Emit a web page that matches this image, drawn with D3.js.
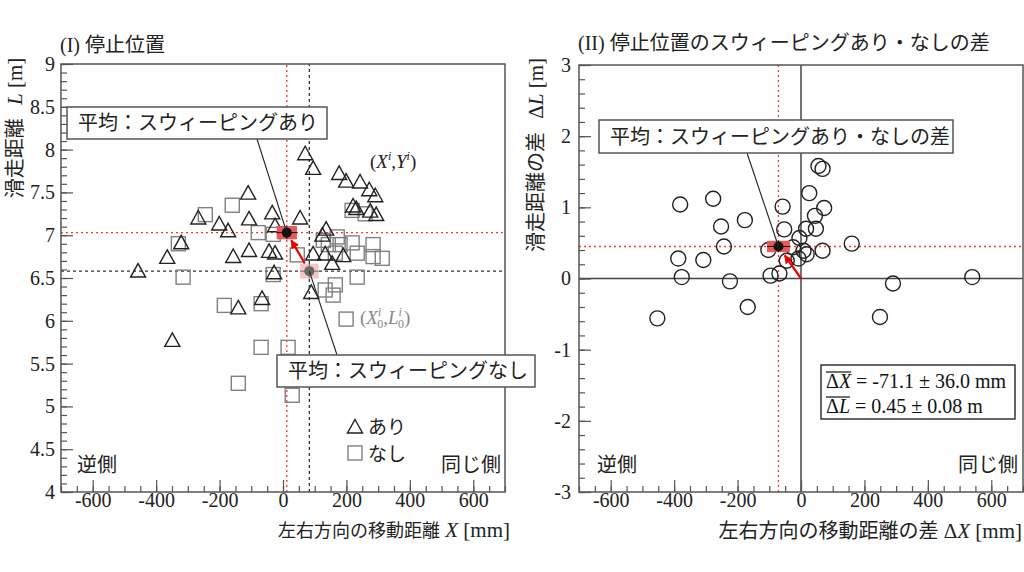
<!DOCTYPE html>
<html>
<head>
<meta charset="utf-8" />
<script src="https://d3js.org/d3.v7.min.js"></script>
<style>
  body { margin: 0; background: #fff; }
  .axis path { display: none; }
  .axis line { stroke: #555; stroke-width: 1.2px; }
  .axis text { font-family: "Liberation Serif", serif; font-size: 20px; fill: #222; }
  .frame { fill: none; stroke: #555; stroke-width: 1.5px; }
  .jp { font-family: "Noto Sans CJK JP", sans-serif; fill: #222; }
  .serif { font-family: "Liberation Serif", serif; }
  .box { fill: #fff; stroke: #555; stroke-width: 1.5px; }
</style>
</head>
<body>
<svg width="1024" height="572"></svg>
<script>

// (I) stopping position, with sweeping (triangles)
var ariX = [-110,-267,-201,-173,-107,-34,-25,-321,-365,-157,-107,-44,-25,-457,-28,-66,-141,-349,
            70,95,177,199,243,272,291,221,231,275,294,54,136,124,95,133,155,190,89];
var ariL = [7.50,7.21,7.14,7.06,7.20,7.27,7.12,6.92,6.75,6.76,6.83,6.82,6.80,6.59,6.57,6.27,6.16,5.78,
            7.96,7.79,7.73,7.64,7.63,7.54,7.47,7.35,7.32,7.29,7.25,7.21,7.08,7.01,6.79,6.79,6.68,6.77,6.34];

// (I) stopping position, without sweeping (squares)
var nashiX = [-245,-160,-330,-315,-185,-69,-78,-31,-31,-69,-141,16,29,218,259,127,171,180,218,284,
              234,284,313,45,234,165,133,158,199,165,143];
var nashiL = [7.24,7.35,6.90,6.51,6.18,6.20,7.03,7.01,6.54,5.69,5.27,5.69,5.13,7.29,7.25,6.94,6.98,6.89,6.91,6.89,
              6.79,6.75,6.73,6.77,6.51,6.42,6.36,6.30,6.02,6.79,6.89];

// (II) differences (circles)
var diffX = [-381,-277,-252,-177,-243,-387,-308,-376,-224,-453,-168,-58,-53,-103,-96,-68,-45,
             55,68,26,73,44,16,47,-5,68,160,-25,8,18,-8,249,290,540];
var diffL = [1.04,1.12,0.73,0.82,0.45,0.28,0.26,0.02,-0.04,-0.56,-0.40,1.01,0.69,0.40,0.04,0.07,0.25,
             1.58,1.54,1.20,0.99,0.88,0.70,0.70,0.57,0.39,0.49,0.44,0.39,0.34,0.28,-0.54,-0.07,0.02];

// means [x, y, errX, errY]
var meanAri = [12, 7.03, 32, 0.078];
var meanNashi = [83, 6.58, 29, 0.085];
var meanDiff = [-71.1, 0.45, 36.0, 0.08];

var xTicks = [-600, -400, -200, 0, 200, 400, 600];
var yTicksL = [4, 4.5, 5, 5.5, 6, 6.5, 7, 7.5, 8, 8.5, 9];
var yTicksR = [-3, -2, -1, 0, 1, 2, 3];

var svg = d3.select("svg");
svg.append("rect").attr("width", 1024).attr("height", 572).attr("fill", "#fff");

var defs = svg.append("defs");
defs.append("marker")
  .attr("id", "arrow")
  .attr("viewBox", "0 0 10 10")
  .attr("refX", 9).attr("refY", 5)
  .attr("markerWidth", 4).attr("markerHeight", 4)
  .attr("orient", "auto")
  .append("path").attr("d", "M0,0 L10,5 L0,10 Z").attr("fill", "#e00");

//scales
var x1 = d3.scaleLinear().domain([-700, 700]).range([61, 505]),
    y1 = d3.scaleLinear().domain([4, 9]).range([492, 64]),
    x2 = d3.scaleLinear().domain([-700, 700]).range([579, 1023]),
    y2 = d3.scaleLinear().domain([-3, 3]).range([492, 65]);

var triPath = "M0,-7.5L7.5,6L-7.5,6Z";
var plain = function(d) { return String(d); };   // keep ascii hyphen like the original

function drawAxes(x, y, yMinorStep) {
  var xr = x.range(), yr = y.range(), xd = x.domain(), yd = y.domain();
  var xMinor = d3.range(xd[0], xd[1] + 1, 50);
  var yMinor = d3.range(0, Math.round((yd[1] - yd[0]) / yMinorStep) + 1).map(function(i) { return yd[0] + i * yMinorStep; });

  svg.append("g").attr("class", "axis")
    .attr("transform", "translate(0," + yr[0] + ")")
    .call(d3.axisBottom(x).tickValues(xMinor).tickSize(-6).tickFormat(""));
  svg.append("g").attr("class", "axis")
    .attr("transform", "translate(0," + yr[0] + ")")
    .call(d3.axisBottom(x).tickValues(xTicks).tickSize(-12).tickPadding(1).tickFormat(plain));

  svg.append("g").attr("class", "axis")
    .attr("transform", "translate(" + xr[0] + ",0)")
    .call(d3.axisLeft(y).tickValues(yMinor).tickSize(-6).tickFormat(""));
  return svg.append("g").attr("class", "axis")
    .attr("transform", "translate(" + xr[0] + ",0)");
}

function frame(x, y) {
  var xr = x.range(), yr = y.range();
  svg.append("rect").attr("class", "frame")
    .attr("x", xr[0]).attr("y", yr[1])
    .attr("width", xr[1] - xr[0]).attr("height", yr[0] - yr[1]);
}

function dashed(x, y, vx, vy, color, dash) {
  svg.append("line").attr("x1", x(vx)).attr("x2", x(vx))
    .attr("y1", y.range()[0]).attr("y2", y.range()[1])
    .attr("stroke", color).attr("stroke-width", 1.3).attr("stroke-dasharray", dash);
  svg.append("line").attr("x1", x.range()[0]).attr("x2", x.range()[1])
    .attr("y1", y(vy)).attr("y2", y(vy))
    .attr("stroke", color).attr("stroke-width", 1.3).attr("stroke-dasharray", dash);
}

function meanMark(x, y, m, fill, dot) {
  svg.append("rect")
    .attr("x", x(m[0] - m[2])).attr("y", y(m[1] + m[3]))
    .attr("width", x(m[0] + m[2]) - x(m[0] - m[2]))
    .attr("height", y(m[1] - m[3]) - y(m[1] + m[3]))
    .attr("fill", fill);
  svg.append("line").attr("x1", x(m[0] - m[2])).attr("x2", x(m[0] + m[2]))
    .attr("y1", y(m[1])).attr("y2", y(m[1])).attr("stroke", dot).attr("stroke-width", 1);
  svg.append("line").attr("x1", x(m[0])).attr("x2", x(m[0]))
    .attr("y1", y(m[1] - m[3])).attr("y2", y(m[1] + m[3])).attr("stroke", dot).attr("stroke-width", 1);
  svg.append("circle").attr("cx", x(m[0])).attr("cy", y(m[1])).attr("r", 5).attr("fill", dot);
}

function arrow(x, y, from, to, t0, t1) {
  var ix = d3.interpolate(from[0], to[0]), iy = d3.interpolate(from[1], to[1]);
  svg.append("line")
    .attr("x1", x(ix(t0))).attr("y1", y(iy(t0)))
    .attr("x2", x(ix(t1))).attr("y2", y(iy(t1)))
    .attr("stroke", "#e00").attr("stroke-width", 2.2)
    .attr("marker-end", "url(#arrow)");
}

function callout(bx, by, bw, bh, label, lx, ly, px, py, size) {
  svg.append("line").attr("x1", lx).attr("y1", ly).attr("x2", px).attr("y2", py)
    .attr("stroke", "#222").attr("stroke-width", 1.1);
  svg.append("rect").attr("class", "box")
    .attr("x", bx).attr("y", by).attr("width", bw).attr("height", bh);
  svg.append("text").attr("class", "jp")
    .attr("x", bx + 11).attr("y", by + bh / 2 + size * 0.36)
    .style("font-size", size + "px").text(label);
}

// ---------- panel (I) ----------
dashed(x1, y1, meanAri[0], meanAri[1], "#f33", "2,3");
dashed(x1, y1, meanNashi[0], meanNashi[1], "#333", "3,3");

svg.append("g").selectAll("rect")
  .data(d3.range(nashiX.length)).enter().append("rect")
  .attr("x", function(i) { return x1(nashiX[i]) - 7; })
  .attr("y", function(i) { return y1(nashiL[i]) - 7; })
  .attr("width", 14).attr("height", 14)
  .attr("fill", "none").attr("stroke", "#808080").attr("stroke-width", 1.4);

svg.append("g").selectAll("path")
  .data(d3.range(ariX.length)).enter().append("path")
  .attr("d", triPath)
  .attr("transform", function(i) { return "translate(" + x1(ariX[i]) + "," + (y1(ariL[i]) + 0.75) + ")"; })
  .attr("fill", "none").attr("stroke", "#222").attr("stroke-width", 1.4);

meanMark(x1, y1, meanNashi, "#f6c4c4", "#666");
meanMark(x1, y1, meanAri, "#e85a5a", "#111");
arrow(x1, y1, meanNashi, meanAri, 0.2, 0.8);

drawAxes(x1, y1, 0.1)
  .call(d3.axisLeft(y1).tickValues(yTicksL).tickSize(-12).tickPadding(6).tickFormat(plain));
frame(x1, y1);

callout(67, 107, 260, 32, "平均：スウィーピングあり", 257, 139, x1(meanAri[0]), y1(meanAri[1]), 20);
callout(277, 355, 258, 32, "平均：スウィーピングなし", 337, 355, x1(meanNashi[0]), y1(meanNashi[1]), 20);

// point labels
var lab1 = svg.append("text").attr("class", "serif").attr("x", 370).attr("y", 168)
  .style("font-size", "19px").attr("fill", "#222");
lab1.append("tspan").text("(");
lab1.append("tspan").style("font-style", "italic").text("X");
lab1.append("tspan").style("font-style", "italic").style("font-size", "12px").attr("dy", -8).text("i");
lab1.append("tspan").attr("dy", 8).text(",");
lab1.append("tspan").style("font-style", "italic").text("Y");
lab1.append("tspan").style("font-style", "italic").style("font-size", "12px").attr("dy", -8).text("i");
lab1.append("tspan").attr("dy", 8).text(")");

var lab2 = svg.append("text").attr("class", "serif").attr("x", 360).attr("y", 324)
  .style("font-size", "19px").attr("fill", "#888");
lab2.append("tspan").text("(");
lab2.append("tspan").style("font-style", "italic").text("X");
lab2.append("tspan").style("font-style", "italic").style("font-size", "12px").attr("dy", -8).text("i");
lab2.append("tspan").style("font-size", "12px").attr("dx", -4).attr("dy", 12).text("0");
lab2.append("tspan").attr("dy", -4).text(",");
lab2.append("tspan").style("font-style", "italic").text("L");
lab2.append("tspan").style("font-style", "italic").style("font-size", "12px").attr("dy", -8).text("i");
lab2.append("tspan").style("font-size", "12px").attr("dx", -4).attr("dy", 12).text("0");
lab2.append("tspan").attr("dy", -4).text(")");

// legend
svg.append("path").attr("d", triPath).attr("transform", "translate(355,427)")
  .attr("fill", "none").attr("stroke", "#222").attr("stroke-width", 1.4);
svg.append("text").attr("class", "jp").attr("x", 368).attr("y", 434).style("font-size", "19px").text("あり");
svg.append("rect").attr("x", 348).attr("y", 446).attr("width", 14).attr("height", 14)
  .attr("fill", "none").attr("stroke", "#808080").attr("stroke-width", 1.4);
svg.append("text").attr("class", "jp").attr("x", 368).attr("y", 461).style("font-size", "19px").text("なし");

svg.append("text").attr("class", "jp").attr("x", 77).attr("y", 472).style("font-size", "20px").text("逆側");
svg.append("text").attr("class", "jp").attr("x", 501).attr("y", 472).attr("text-anchor", "end").style("font-size", "20px").text("同じ側");

// titles and axis labels
var t1 = svg.append("text").attr("x", 60).attr("y", 52).attr("fill", "#222");
t1.append("tspan").attr("class", "serif").style("font-size", "20px").text("(I) ");
t1.append("tspan").attr("class", "jp").style("font-size", "20px").text("停止位置");

var xl1 = svg.append("text").attr("x", 510).attr("y", 537).attr("text-anchor", "end").attr("fill", "#222");
xl1.append("tspan").attr("class", "jp").style("font-size", "18px").text("左右方向の移動距離");
xl1.append("tspan").attr("class", "serif").style("font-size", "21px").style("font-style", "italic").text(" X");
xl1.append("tspan").attr("class", "serif").style("font-size", "21px").text(" [mm]");

var yl1 = svg.append("text").attr("transform", "translate(22,128) rotate(-90)").attr("text-anchor", "middle").attr("fill", "#222");
yl1.append("tspan").attr("class", "jp").style("font-size", "20px").text("滑走距離");
yl1.append("tspan").attr("class", "serif").style("font-size", "21px").style("font-style", "italic").attr("dx", 8).text(" L");
yl1.append("tspan").attr("class", "serif").style("font-size", "21px").text(" [m]");

// ---------- panel (II) ----------
svg.append("line").attr("x1", x2(0)).attr("x2", x2(0)).attr("y1", y2.range()[0]).attr("y2", y2.range()[1])
  .attr("stroke", "#444").attr("stroke-width", 1.5);
svg.append("line").attr("x1", x2.range()[0]).attr("x2", x2.range()[1]).attr("y1", y2(0)).attr("y2", y2(0))
  .attr("stroke", "#444").attr("stroke-width", 1.5);
svg.append("line").attr("x1", x2(meanDiff[0])).attr("x2", x2(meanDiff[0])).attr("y1", y2.range()[0]).attr("y2", y2.range()[1])
  .attr("stroke", "#f33").attr("stroke-width", 1.3).attr("stroke-dasharray", "2,3");
svg.append("line").attr("x1", x2.range()[0]).attr("x2", x2.range()[1]).attr("y1", y2(meanDiff[1])).attr("y2", y2(meanDiff[1]))
  .attr("stroke", "#f33").attr("stroke-width", 1.3).attr("stroke-dasharray", "2,3");

svg.append("g").selectAll("circle")
  .data(d3.range(diffX.length)).enter().append("circle")
  .attr("cx", function(i) { return x2(diffX[i]); })
  .attr("cy", function(i) { return y2(diffL[i]); })
  .attr("r", 7.5)
  .attr("fill", "none").attr("stroke", "#222").attr("stroke-width", 1.4);

meanMark(x2, y2, meanDiff, "#e85a5a", "#111");
arrow(x2, y2, [0, 0], meanDiff, 0, 0.72);

drawAxes(x2, y2, 0.2)
  .call(d3.axisLeft(y2).tickValues(yTicksR).tickSize(-12).tickPadding(8).tickFormat(plain));
frame(x2, y2);

callout(599, 120, 354, 33, "平均：スウィーピングあり・なしの差", 747, 153, x2(meanDiff[0]), y2(meanDiff[1]), 20);

// stats box
svg.append("rect").attr("class", "box").attr("x", 821).attr("y", 365).attr("width", 194).attr("height", 54)
  .style("stroke", "#333");
var statLines = [["X", "\u00a0= -71.1 ± 36.0 mm"], ["L", "\u00a0= 0.45 ± 0.08 m"]];
statLines.forEach(function(s, k) {
  var by = 388 + k * 25;
  var head = svg.append("text").attr("class", "serif").attr("x", 826).attr("y", by)
    .style("font-size", "20px").attr("fill", "#111");
  head.append("tspan").text("Δ");
  head.append("tspan").style("font-style", "italic").text(s[0]);
  var w = head.node().getComputedTextLength();
  svg.append("line").attr("x1", 826).attr("x2", 826 + w).attr("y1", by - 16).attr("y2", by - 16)
    .attr("stroke", "#111").attr("stroke-width", 1.2);
  svg.append("text").attr("class", "serif").attr("x", 826 + w).attr("y", by)
    .style("font-size", "20px").attr("fill", "#111").text(s[1]);
});

svg.append("text").attr("class", "jp").attr("x", 597).attr("y", 472).style("font-size", "20px").text("逆側");
svg.append("text").attr("class", "jp").attr("x", 1018).attr("y", 472).attr("text-anchor", "end").style("font-size", "20px").text("同じ側");

var t2 = svg.append("text").attr("x", 578).attr("y", 50).attr("fill", "#222");
t2.append("tspan").attr("class", "serif").style("font-size", "20px").text("(II) ");
t2.append("tspan").attr("class", "jp").style("font-size", "20px").text("停止位置のスウィーピングあり・なしの差");

var xl2 = svg.append("text").attr("x", 1022).attr("y", 538).attr("text-anchor", "end").attr("fill", "#222");
xl2.append("tspan").attr("class", "jp").style("font-size", "20px").text("左右方向の移動距離の差");
xl2.append("tspan").attr("class", "serif").style("font-size", "21px").text(" Δ");
xl2.append("tspan").attr("class", "serif").style("font-size", "21px").style("font-style", "italic").text("X");
xl2.append("tspan").attr("class", "serif").style("font-size", "21px").text(" [mm]");

var yl2 = svg.append("text").attr("transform", "translate(543,155) rotate(-90)").attr("text-anchor", "middle").attr("fill", "#222");
yl2.append("tspan").attr("class", "jp").style("font-size", "20px").text("滑走距離の差");
yl2.append("tspan").attr("class", "serif").style("font-size", "21px").attr("dx", 8).text(" Δ");
yl2.append("tspan").attr("class", "serif").style("font-size", "21px").style("font-style", "italic").text("L");
yl2.append("tspan").attr("class", "serif").style("font-size", "21px").text(" [m]");

</script>
</body>
</html>
